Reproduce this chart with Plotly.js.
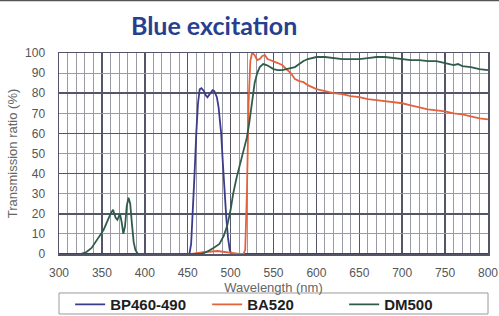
<!DOCTYPE html>
<html><head><meta charset="utf-8">
<script src="https://cdn.plot.ly/plotly-3.0.1.min.js"></script>
<style>html,body{margin:0;padding:0;background:#fff;}#chart{width:499px;height:316px;}</style>
</head><body><div id="chart"></div>
<script>
// Wavelength (nm) / transmission (%)
const bpX = [300, 452, 454, 456, 458, 460, 462, 464, 466, 469, 471, 473, 475, 477, 479, 481, 484, 486, 488, 489, 491, 493, 495, 497, 499, 501, 800];
const bpY = [0, 0, 5, 20, 40, 60, 75, 82, 82.5, 81, 79, 78, 79, 80.5, 81.5, 81, 78, 73, 66, 60, 45, 30, 18, 8, 2, 0, 0];

const baX = [455, 470, 485, 500, 510, 515, 517, 519, 521, 523, 525, 528, 531, 534, 537, 540, 543, 546, 550, 555, 560, 565, 570, 575, 580, 585, 590, 595, 600, 605, 610, 620, 630, 640, 650, 660, 670, 680, 690, 700, 710, 720, 730, 740, 750, 760, 770, 780, 790, 800];
const baY = [0, 1, 1.5, 0.5, 0, 0, 2, 30, 75, 96, 100, 99, 96.5, 97, 98.5, 99, 97, 96.5, 96, 95, 94, 92, 90, 87, 86, 85.5, 84, 83, 82, 81.5, 81, 80, 79.5, 78.5, 78, 77, 76.5, 76, 75.5, 75, 74, 73, 72, 71.5, 71, 70, 69.5, 68.5, 67.5, 67];

const dmX = [325, 332, 338, 343, 348, 352, 356, 360, 363, 366, 368, 371, 373, 375, 377, 379, 381, 383, 385, 387, 389, 392, 465, 472, 480, 487, 492, 496, 500, 503, 507, 511, 515, 519, 522, 525, 528, 531, 534, 538, 542, 546, 550, 555, 560, 565, 570, 575, 580, 585, 590, 595, 600, 610, 620, 630, 640, 650, 660, 670, 680, 690, 700, 710, 720, 730, 740, 750, 760, 765, 770, 780, 790, 800];
const dmY = [0, 1, 3, 6, 9, 12, 16, 20, 22, 18, 17, 20, 16, 10, 14, 24, 28, 25, 15, 6, 2, 0, 0, 1, 3, 5, 9, 14, 22, 30, 38, 45, 51, 58, 66, 76, 85, 90, 93, 94.5, 94, 93, 92, 91.5, 91.5, 92, 92.5, 93, 94.5, 96, 97, 97.5, 98, 98, 97.5, 97, 97, 97, 97.5, 98, 98, 97.5, 97, 96.5, 96.5, 96, 96, 95, 94, 94.5, 93.5, 93, 92, 91.5];

const seriesNames = ['BP460-490', 'BA520', 'DM500'];
const seriesColors = ['#3b3b8c', '#e2623c', '#2f5c4a'];
const xTicks = [300, 350, 400, 450, 500, 550, 600, 650, 700, 750, 800];
const yTicks = [0, 10, 20, 30, 40, 50, 60, 70, 80, 90, 100];

const data = [
  {x: bpX, y: bpY, name: seriesNames[0], type: 'scatter', mode: 'lines', line: {color: seriesColors[0], width: 1.8}},
  {x: baX, y: baY, name: seriesNames[1], type: 'scatter', mode: 'lines', line: {color: seriesColors[1], width: 1.8}},
  {x: dmX, y: dmY, name: seriesNames[2], type: 'scatter', mode: 'lines', line: {color: seriesColors[2], width: 1.8}},
  {x: [], y: [], yaxis: 'y2', showlegend: false, hoverinfo: 'skip'}
];

const tickFont = {family: 'Liberation Sans, Arial, sans-serif', size: 12, color: '#555'};
const layout = {
  width: 499, height: 316,
  margin: {l: 59, r: 11, t: 53, b: 62, autoexpand: false},
  paper_bgcolor: '#fff', plot_bgcolor: '#fff',
  title: {text: 'Blue excitation', x: 0.429, xref: 'container', xanchor: 'center', y: 0.916, yref: 'container', yanchor: 'middle',
          font: {family: 'Lato, Open Sans, sans-serif', size: 25, color: '#283f8f', weight: 'bold'}},
  showlegend: true,
  legend: {orientation: 'h', x: 0.026, xanchor: 'left', y: -0.252, yanchor: 'middle', yref: 'paper',
           entrywidth: 92, entrywidthmode: 'pixels', bgcolor: 'rgba(0,0,0,0)', borderwidth: 0,
           font: {family: 'Liberation Sans, Arial, sans-serif', size: 15, color: '#1e1e1e', weight: 'bold'}, itemwidth: 30},
  xaxis: {range: [300, 800], tickvals: xTicks, ticktext: xTicks.map(String), tickfont: tickFont,
          ticks: 'outside', ticklen: 7, tickcolor: 'rgba(0,0,0,0)',
          showgrid: true, gridcolor: '#55556a', gridwidth: 1.5,
          minor: {dtick: 10, tick0: 300, showgrid: true, gridcolor: '#9a9aa6', gridwidth: 1},
          showline: true, mirror: true, linecolor: '#55556a', linewidth: 1.5, zeroline: false, fixedrange: true,
          title: {text: 'Wavelength (nm)', standoff: 0, font: {family: 'Liberation Sans, Arial, sans-serif', size: 13, color: '#666'}}},
  yaxis: {range: [0, 100], tickvals: yTicks, ticktext: yTicks.map(String), tickfont: tickFont,
          ticks: 'outside', ticklen: 10, tickcolor: 'rgba(0,0,0,0)',
          showgrid: true, gridcolor: '#9a9aa6', gridwidth: 1,
          showline: true, mirror: true, linecolor: '#55556a', linewidth: 1.5, zeroline: false, fixedrange: true,
          title: {text: 'Transmission ratio (%)', standoff: 4, font: {family: 'Liberation Sans, Arial, sans-serif', size: 13, color: '#666'}}},
  yaxis2: {range: [0, 100], overlaying: 'y', dtick: 20, tick0: 0, showticklabels: false, ticks: '',
           showgrid: true, gridcolor: '#55556a', gridwidth: 1.5, zeroline: false, fixedrange: true},
  shapes: [
    {type: 'rect', xref: 'paper', yref: 'paper', x0: 0, x1: 1, y0: -0.194, y1: -0.2985, line: {color: '#9a9a9a', width: 1}, fillcolor: 'rgba(0,0,0,0)'},
    {type: 'line', xref: 'paper', yref: 'paper', x0: -0.14, x1: 1.03, y0: 1.262, y1: 1.262, line: {color: '#555', width: 2}}
  ]
};
Plotly.newPlot('chart', data, layout, {staticPlot: true, displayModeBar: false});
</script></body></html>
